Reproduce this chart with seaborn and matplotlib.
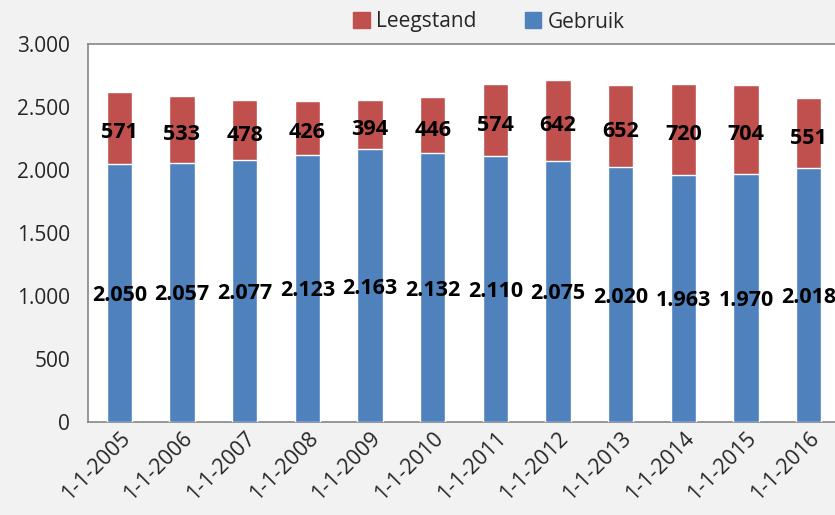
import matplotlib
matplotlib.use("Agg")
import matplotlib.pyplot as plt
import seaborn as sns
import pandas as pd
from matplotlib.patches import Patch
from matplotlib.ticker import FuncFormatter, FixedLocator

# ── data ─────────────────────────────────────────────
datums = ["1-1-2005", "1-1-2006", "1-1-2007", "1-1-2008", "1-1-2009", "1-1-2010",
          "1-1-2011", "1-1-2012", "1-1-2013", "1-1-2014", "1-1-2015", "1-1-2016"]
gebruik = [2050, 2057, 2077, 2123, 2163, 2132, 2110, 2075, 2020, 1963, 1970, 2018]
leegstand = [571, 533, 478, 426, 394, 446, 574, 642, 652, 720, 704, 551]

df = pd.DataFrame({"datum": datums, "Gebruik": gebruik, "Leegstand": leegstand})
df["totaal"] = df["Gebruik"] + df["Leegstand"]

RED = "#C0504D"
BLUE = "#4F81BD"
GRAY = "#868686"
BG = "#F2F2F2"

sns.set_style("white")
plt.rcParams["font.family"] = ["Open Sans", "DejaVu Sans"]

fig = plt.figure(figsize=(8.35, 5.15), dpi=100)
fig.patch.set_facecolor(BG)
ax = fig.add_axes([88 / 835, 1 - 422 / 515, 752 / 835, 378 / 515])
ax.set_facecolor("white")

# gestapeld: totaal in rood, gebruik in blauw eroverheen
sns.barplot(data=df, x="datum", y="totaal", color=RED, width=0.4,
            saturation=1, ax=ax, zorder=2)
sns.barplot(data=df, x="datum", y="Gebruik", color=BLUE, width=0.4,
            saturation=1, ax=ax, zorder=3)

def nl(v):
    return f"{v:,}".replace(",", ".")

for i, (g, l) in enumerate(zip(gebruik, leegstand)):
    ax.text(i, g / 2 - 20, nl(g), ha="center", va="center", fontsize=15.5,
            fontweight="bold", color="black", zorder=5)
    ax.text(i, g + l / 2 - 40, nl(l), ha="center", va="center", fontsize=15.5,
            fontweight="bold", color="black", zorder=5)

ax.set_ylim(0, 3000)
ax.set_xlim(-0.5, len(datums) - 0.5)
ax.set_yticks(range(0, 3001, 500))
ax.yaxis.set_major_formatter(FuncFormatter(lambda v, p: nl(int(v))))
ax.set_xlabel("")
ax.set_ylabel("")

# tickmarks tussen de categorieën, labels onder de staven
ax.xaxis.set_minor_locator(FixedLocator([i - 0.5 for i in range(len(datums) + 1)]))
ax.tick_params(axis="x", which="major", length=0, pad=4, labelsize=15.5)
ax.tick_params(axis="x", which="minor", length=6, color=GRAY, width=1.2)
ax.tick_params(axis="y", length=7, color=GRAY, width=1.2, labelsize=15, pad=6)
for lab in ax.get_xticklabels():
    lab.set_rotation(45)
    lab.set_ha("right")
    lab.set_rotation_mode("anchor")

for s in ["left", "bottom", "top"]:
    ax.spines[s].set_color(GRAY)
    ax.spines[s].set_linewidth(1.2)
ax.spines["right"].set_visible(False)

handles = [Patch(color=RED, label="Leegstand"), Patch(color=BLUE, label="Gebruik")]
fig.legend(handles=handles, loc="center", bbox_to_anchor=(489 / 835, 1 - 22 / 515),
           ncol=2, frameon=False, fontsize=15, handlelength=0.8, handleheight=0.8,
           handletextpad=0.3, columnspacing=2.3)

fig.savefig("out.png", dpi=100, facecolor=BG)
